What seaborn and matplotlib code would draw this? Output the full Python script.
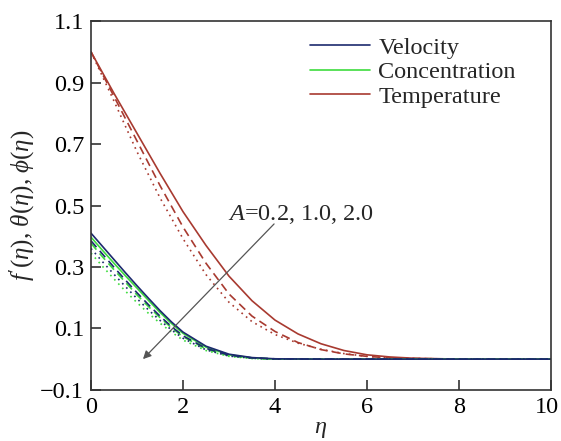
import numpy as np
import pandas as pd
import matplotlib
matplotlib.use("Agg")
import matplotlib.pyplot as plt
import matplotlib.transforms as mtransforms
import seaborn as sns
from matplotlib.lines import Line2D

# ---- data ----
eta_t = [0, 0.5, 1, 1.5, 2, 2.5, 3, 3.5, 4, 4.5, 5, 5.5, 6, 6.5, 7, 8, 9, 10]
temp_a02 = [1.0, 0.865, 0.735, 0.605, 0.48, 0.37, 0.27, 0.19, 0.127, 0.082, 0.05, 0.028, 0.014, 0.007, 0.003, 0.0, 0.0, 0.0]
temp_a10 = [1.0, 0.855, 0.71, 0.565, 0.43, 0.312, 0.212, 0.14, 0.09, 0.054, 0.031, 0.017, 0.009, 0.004, 0.002, 0.0, 0.0, 0.0]
temp_a20 = [1.0, 0.84, 0.675, 0.525, 0.392, 0.275, 0.185, 0.122, 0.08, 0.052, 0.032, 0.018, 0.009, 0.004, 0.002, 0.0, 0.0, 0.0]

eta_v = [0, 0.25, 0.5, 0.75, 1, 1.25, 1.5, 1.75, 2, 2.5, 3, 3.5, 4, 5, 6, 7, 8, 9, 10]
vel_a02 = [0.41, 0.367, 0.324, 0.281, 0.239, 0.198, 0.158, 0.121, 0.088, 0.042, 0.016, 0.005, 0.001, 0.0, 0.0, 0.0, 0.0, 0.0, 0.0]
vel_a10 = [0.385, 0.342, 0.299, 0.257, 0.216, 0.177, 0.140, 0.106, 0.076, 0.035, 0.013, 0.004, 0.001, 0.0, 0.0, 0.0, 0.0, 0.0, 0.0]
vel_a20 = [0.36, 0.317, 0.276, 0.236, 0.197, 0.160, 0.126, 0.095, 0.068, 0.030, 0.010, 0.003, 0.0, 0.0, 0.0, 0.0, 0.0, 0.0, 0.0]
conc_a02 = [0.397, 0.354, 0.312, 0.271, 0.231, 0.191, 0.152, 0.116, 0.084, 0.039, 0.014, 0.004, 0.0, 0.0, 0.0, 0.0, 0.0, 0.0, 0.0]
conc_a10 = [0.377, 0.333, 0.291, 0.250, 0.209, 0.171, 0.135, 0.102, 0.073, 0.033, 0.011, 0.003, 0.0, 0.0, 0.0, 0.0, 0.0, 0.0, 0.0]
conc_a20 = [0.345, 0.302, 0.261, 0.221, 0.184, 0.149, 0.117, 0.088, 0.062, 0.028, 0.009, 0.002, 0.0, 0.0, 0.0, 0.0, 0.0, 0.0, 0.0]

legend_labels = ["Velocity", "Concentration", "Temperature"]
annotation_text = "$A$=0.2, 1.0, 2.0"
x_ticks = [0, 2, 4, 6, 8, 10]
y_ticks = [-0.1, 0.1, 0.3, 0.5, 0.7, 0.9, 1.1]

# ---- style ----
sns.set_theme(style="white")
plt.rcParams["font.family"] = ["Liberation Serif", "DejaVu Serif"]
plt.rcParams["mathtext.fontset"] = "custom"
plt.rcParams["mathtext.rm"] = "Liberation Serif"
plt.rcParams["mathtext.it"] = "Liberation Serif:italic"
plt.rcParams["mathtext.bf"] = "Liberation Serif:bold"

c_vel = "#1c2a6e"
c_conc = "#3ddc3d"
c_temp = "#a83a30"
styles = ["-", (0, (5, 3)), (0, (1, 2.5))]
FS = 17.5

fig = plt.figure(figsize=(5.61, 4.41), dpi=100)
ax = fig.add_axes([0.1622, 0.116, 0.8200, 0.836])

series = [
    (eta_t, [temp_a02, temp_a10, temp_a20], c_temp),
    (eta_v, [conc_a02, conc_a10, conc_a20], c_conc),
    (eta_v, [vel_a02, vel_a10, vel_a20], c_vel),
]
for xs, ys_list, col in series:
    for ys, ls in zip(ys_list, styles):
        df = pd.DataFrame({"eta": xs, "val": ys})
        sns.lineplot(data=df, x="eta", y="val", ax=ax, color=col,
                     linestyle=ls, linewidth=1.2, legend=False)

ax.set_xlim(0, 10)
ax.set_ylim(-0.1, 1.1)
ax.set_xticks(x_ticks)
ax.set_xticklabels([str(v) for v in x_ticks])
ax.set_yticks(y_ticks)
ax.set_yticklabels(["\u22120.1" if v < 0 else f"{v:.1f}" for v in y_ticks])
ax.tick_params(axis="both", direction="in", length=7, width=1.2,
               labelsize=FS, colors="#333333", labelcolor="black",
               bottom=True, left=True, top=False, right=False, pad=5)
for s in ax.spines.values():
    s.set_color("#333333")
    s.set_linewidth(1.2)

# nudge last x tick label so it stays inside the canvas
last = ax.get_xticklabels()[-1]
last.set_transform(last.get_transform() +
                   mtransforms.ScaledTranslation(-4 / 100, 0, fig.dpi_scale_trans))

ax.set_xlabel(r"$\eta$", fontsize=FS, labelpad=1)
ax.set_ylabel(r"$f'(\eta)$, $\theta(\eta)$, $\phi(\eta)$", fontsize=18, labelpad=2)

# arrow and annotation
ax.annotate("", xy=(1.13, 0.0), xytext=(3.98, 0.44),
            arrowprops=dict(arrowstyle="-|>", color="#555555", lw=0.9,
                            mutation_scale=12, shrinkA=0, shrinkB=0))
ax.text(4.57, 0.453, annotation_text, fontsize=FS, ha="center", va="baseline")

handles = [Line2D([0], [0], color=c, lw=1.2) for c in (c_vel, c_conc, c_temp)]
ax.legend(handles, legend_labels, loc="upper left", bbox_to_anchor=(0.477, 0.958),
          frameon=False, fontsize=FS, handlelength=2.45, handletextpad=0.35,
          labelspacing=0.1, borderpad=0, borderaxespad=0)

fig.savefig("out.png", dpi=100)
